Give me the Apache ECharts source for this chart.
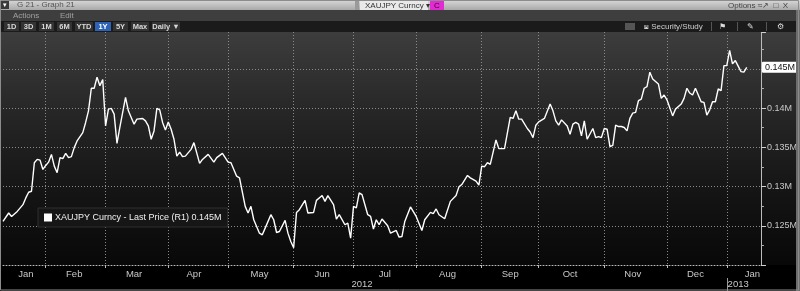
<!DOCTYPE html>
<html><head><meta charset="utf-8">
<script src="https://cdn.jsdelivr.net/npm/echarts@6/dist/echarts.min.js"></script>
<style>html,body{margin:0;padding:0;background:#000;overflow:hidden}#c{width:800px;height:291px}</style>
</head><body><div id="c"></div>
<script>
// ---- data ----
const startDate = '2012-01-11';      // first trading day shown
const categoryCount = 267;           // weekdays on the axis (incl. right padding)
const monthNames = ['Jan','Feb','Mar','Apr','May','Jun','Jul','Aug','Sep','Oct','Nov','Dec'];
const monthLabelDates = ['2012-01-23','2012-02-15','2012-03-15','2012-04-13','2012-05-16','2012-06-15','2012-07-17','2012-08-16','2012-09-17','2012-10-16','2012-11-15','2012-12-17','2013-01-14'];
const yearLabelDates = ['2012-07-05','2013-01-07'];
const yearLabelTexts = ['2012','2013'];
// trading-day index (from startDate) and price in thousand JPY
const dayIdx = [0,2,3,5,7,8,9,10,11,12,13,14,15,16,17,18,19,20,21,22,23,24,25,26,28,29,30,31,32,33,34,35,36,37,38,39,40,41,43,44,45,46,47,49,50,51,52,53,54,55,56,57,58,59,60,61,62,63,64,66,67,69,70,72,74,75,77,79,80,82,83,85,86,87,88,90,91,92,94,95,96,97,99,100,101,102,103,104,106,107,109,110,112,113,114,116,117,118,120,121,122,123,124,125,126,128,129,130,131,132,133,135,136,138,139,140,141,143,145,147,148,150,151,152,153,155,157,159,160,161,163,164,166,167,168,169,170,171,173,174,176,178,179,180,181,182,184,185,186,187,188,190,192,193,194,195,196,198,199,200,201,202,203,204,205,207,208,209,210,211,212,213,214,215,216,217,218,219,220,221,222,223,224,225,226,227,228,230,231,232,233,235,236,238,239,240,241,242,243,245,246,247,248,249,250,251,252,253,254,255,256,257,259,260,261];
const price = [125.55,126.63,126.19,126.83,127.69,128.55,129.27,129.40,133.04,133.46,133.37,132.18,132.69,133.11,134.10,132.60,131.76,133.68,133.55,134.23,133.68,133.81,134.96,135.81,136.88,138.17,139.65,142.53,142.53,143.94,142.86,143.63,137.73,139.87,139.96,139.23,135.51,137.53,141.37,139.65,138.81,137.95,138.59,138.68,138.37,137.73,136.03,137.09,139.96,139.78,138.17,137.22,138.24,137.31,136.03,133.88,134.40,133.81,133.88,134.74,135.60,132.95,133.46,134.10,133.11,133.68,134.23,133.11,133.04,131.32,131.11,127.47,126.63,127.47,125.77,124.06,123.85,124.70,126.41,125.77,124.14,124.27,125.68,124.06,122.99,122.22,126.70,127.05,128.24,126.63,126.70,128.24,128.85,128.11,128.85,127.69,125.86,126.41,125.13,125.35,123.42,127.47,127.27,129.19,128.97,126.41,126.19,124.58,125.77,125.13,125.86,125.00,124.06,124.40,123.55,123.63,125.55,127.40,126.19,124.40,125.77,126.70,126.54,127.14,126.41,125.90,128.11,128.85,129.96,130.26,131.41,131.11,130.68,130.17,132.60,132.53,133.04,132.82,135.94,134.83,134.83,138.81,138.68,139.65,138.59,138.59,137.40,136.96,136.24,137.82,138.24,138.68,140.51,139.65,138.37,137.82,138.50,137.73,136.67,137.95,138.17,137.95,136.45,138.37,136.03,137.40,136.24,136.37,136.24,137.40,137.31,135.09,135.26,137.82,137.65,137.65,137.53,137.09,138.68,139.36,139.45,140.94,141.15,142.53,142.73,144.58,143.72,143.08,141.24,141.67,141.06,139.01,139.87,140.51,141.24,142.53,141.92,141.67,142.53,140.81,140.73,139.10,139.78,140.81,140.81,142.44,142.22,145.42,145.42,147.35,145.64,146.06,144.65,144.58,145.20];
const yMin = 120, yMax = 149.7, yStep = 5;
const seriesName = 'XAUJPY Curncy - Last Price (R1)';

// ---- build weekday categories ----
const categories = [];
{
  let d = new Date(startDate + 'T00:00:00Z');
  while (categories.length < categoryCount) {
    const wd = d.getUTCDay();
    if (wd !== 0 && wd !== 6) categories.push(d.toISOString().slice(0, 10));
    d = new Date(d.getTime() + 86400000);
  }
}
const isMonthStart = i => i > 0 && categories[i].slice(5, 7) !== categories[i - 1].slice(5, 7);
const isYearStart = i => i > 0 && categories[i].slice(0, 4) !== categories[i - 1].slice(0, 4);
const fmtM = v => (v / 1000).toString() + 'M';
const lastVal = price[price.length - 1];

const font = 'Liberation Sans';
const grey = '#c8c8c8';
const chart = echarts.init(document.getElementById('c'));

function txt(x, y, s, color, size, opt) {
  return {type: 'text', x: x, y: y, z: 5,
    style: {text: s, fill: color, font: (opt && opt.bold ? 'bold ' : '') + size + 'px ' + font, textVerticalAlign: 'middle', textAlign: (opt && opt.align) || 'left'}};
}
function box(x, y, w, h, fill, z) {
  return {type: 'rect', z: z === undefined ? 1 : z, shape: {x: x, y: y, width: w, height: h}, style: {fill: fill}};
}

const buttons = [['1D', 4, 15], ['3D', 21, 15], ['1M', 39, 15], ['6M', 57, 15], ['YTD', 75, 18], ['1Y', 95, 16], ['5Y', 113, 15], ['Max', 131, 18], ['Daily \u25BC', 152, 28]];
const graphics = [
  // plot background gradient
  {type: 'rect', z: -10, silent: true, shape: {x: 0, y: 32, width: 797, height: 233},
    style: {fill: new echarts.graphic.LinearGradient(0, 0, 0, 1, [
      {offset: 0, color: '#3d3d3d'}, {offset: 0.35, color: '#262626'}, {offset: 0.7, color: '#141414'}, {offset: 1, color: '#080808'}])}},
  // title bar
  {type: 'rect', z: 1, shape: {x: 0, y: 0, width: 800, height: 10},
    style: {fill: new echarts.graphic.LinearGradient(0, 0, 0, 1, [{offset: 0, color: '#d8d8d8'}, {offset: 1, color: '#a9a9a9'}])}},
  box(1, 1, 8, 8, '#3a3a3a', 2),
  txt(5, 5, '\u25BE', '#ffffff', 7, {align: 'center'}),
  txt(17, 5, 'G 21 - Graph 21', '#555555', 8),
  box(355, 1, 4, 9, '#9a9a9a', 2),
  box(360, 1, 68, 9, '#e9e9e9', 2),
  txt(365, 5.5, 'XAUJPY Curncy \u25BE', '#333333', 8),
  box(430, 0, 14, 10, '#e22bd0', 2),
  txt(437, 5.5, 'C', '#3a003a', 8, {align: 'center'}),
  txt(728, 5.5, 'Options \u2248', '#444444', 8),
  txt(762, 5.5, '\u2197  \u25A1  X', '#444444', 8),
  // menu row
  box(0, 10, 800, 11, '#3e3e3e', 1),
  txt(13, 15.5, 'Actions', '#a0a0a0', 8),
  txt(60, 15.5, 'Edit', '#a0a0a0', 8),
  // toolbar row
  box(0, 21, 800, 11, '#1b1b1b', 1),
  box(625, 23, 10, 7, '#555555', 2),
  txt(644, 26.5, '\u2A4F Security/Study', '#cfcfcf', 8),
  box(711, 22, 1, 9, '#555555', 2),
  box(737, 22, 1, 9, '#555555', 2),
  box(766, 22, 1, 9, '#555555', 2),
  txt(722, 26.5, '\u2691', '#dddddd', 8, {align: 'center'}),
  txt(750, 26.5, '\u270E', '#dddddd', 8, {align: 'center'}),
  txt(780, 26.5, '\u2699', '#dddddd', 8, {align: 'center'}),
  // frame
  {type: 'rect', z: 20, silent: true, shape: {x: 0.5, y: 0.5, width: 798, height: 289.5}, style: {fill: 'none', stroke: '#8c8c8c', lineWidth: 1}},
  {type: 'rect', z: 19, silent: true, shape: {x: 796, y: 10, width: 4, height: 281}, style: {fill: '#6d6d6d'}}
];
buttons.forEach(b => {
  const sel = b[0] === '1Y';
  graphics.push(box(b[1], 22, b[2], 9, sel ? '#2d62b4' : '#333333', 2));
  graphics.push(txt(b[1] + b[2] / 2, 26.5, b[0], sel ? '#ffffff' : '#d8d8d8', 7.5, {align: 'center', bold: true}));
});

chart.setOption({
  animation: false,
  backgroundColor: '#000000',
  textStyle: {fontFamily: font},
  graphic: graphics,
  grid: {left: 3, right: 39, top: 32, bottom: 26, containLabel: false},
  legend: {
    left: 38, top: 208, orient: 'horizontal',
    data: [{name: seriesName, icon: 'rect'}],
    itemWidth: 8, itemHeight: 8, itemGap: 4,
    padding: [5, 6, 5, 6],
    backgroundColor: '#161616', borderColor: '#2e2e2e', borderWidth: 1,
    textStyle: {color: '#f0f0f0', fontSize: 9, fontFamily: font, padding: [0, 0, 0, -2]},
    formatter: name => name + ' ' + (lastVal / 1000).toFixed(3) + 'M'
  },
  xAxis: [{
    type: 'category', data: categories, boundaryGap: false,
    axisLine: {show: true, lineStyle: {color: '#bdbdbd', type: [1, 2], width: 1}},
    axisTick: {show: true, interval: isMonthStart, length: 3, lineStyle: {color: '#bdbdbd'}},
    splitLine: {show: true, interval: isMonthStart, lineStyle: {color: '#8a8a8a', type: [1, 2], width: 1}},
    axisLabel: {
      interval: (i, v) => monthLabelDates.indexOf(v) >= 0,
      formatter: v => monthNames[parseInt(v.slice(5, 7), 10) - 1],
      color: grey, fontSize: 9.5, margin: 4, fontFamily: font
    }
  }, {
    type: 'category', data: categories, boundaryGap: false, position: 'bottom', offset: 13,
    axisLine: {show: false},
    axisTick: {show: true, interval: isYearStart, length: 14, lineStyle: {color: '#9a9a9a'}},
    splitLine: {show: false},
    axisLabel: {
      interval: (i, v) => yearLabelDates.indexOf(v) >= 0,
      formatter: v => yearLabelTexts[yearLabelDates.indexOf(v)] || '',
      color: grey, fontSize: 9.5, margin: 1, fontFamily: font
    }
  }],
  yAxis: {
    type: 'value', position: 'right', min: yMin, max: yMax, interval: yStep,
    axisLine: {show: true, lineStyle: {color: '#bcbcbc', width: 1}},
    axisTick: {show: true, length: 5, lineStyle: {color: '#d0d0d0'}},
    minorTick: {show: true, splitNumber: 2, length: 3, lineStyle: {color: '#b0b0b0'}},
    splitLine: {show: true, showMinLine: false, showMaxLine: false, lineStyle: {color: '#8a8a8a', type: [1, 2], width: 1}},
    axisLabel: {showMinLabel: false, showMaxLabel: false, formatter: fmtM, color: grey, fontSize: 9, margin: 6, fontFamily: font}
  },
  series: [{
    name: seriesName, type: 'line', xAxisIndex: 0,
    data: dayIdx.map((d, i) => [d, price[i]]),
    symbol: 'none', showSymbol: false,
    lineStyle: {color: '#ffffff', width: 1.4},
    itemStyle: {color: '#ffffff'},
    markLine: {
      silent: true, symbol: 'none', animation: false,
      lineStyle: {color: 'rgba(0,0,0,0)', width: 1, type: 'solid'},
      data: [{yAxis: lastVal}],
      label: {show: true, position: 'end', distance: 1, formatter: () => (lastVal / 1000).toFixed(3) + 'M',
        backgroundColor: '#ffffff', color: '#111111', fontSize: 9, padding: [1, 2, 1, 3], borderRadius: 1, fontFamily: font}
    }
  }]
});
</script></body></html>
